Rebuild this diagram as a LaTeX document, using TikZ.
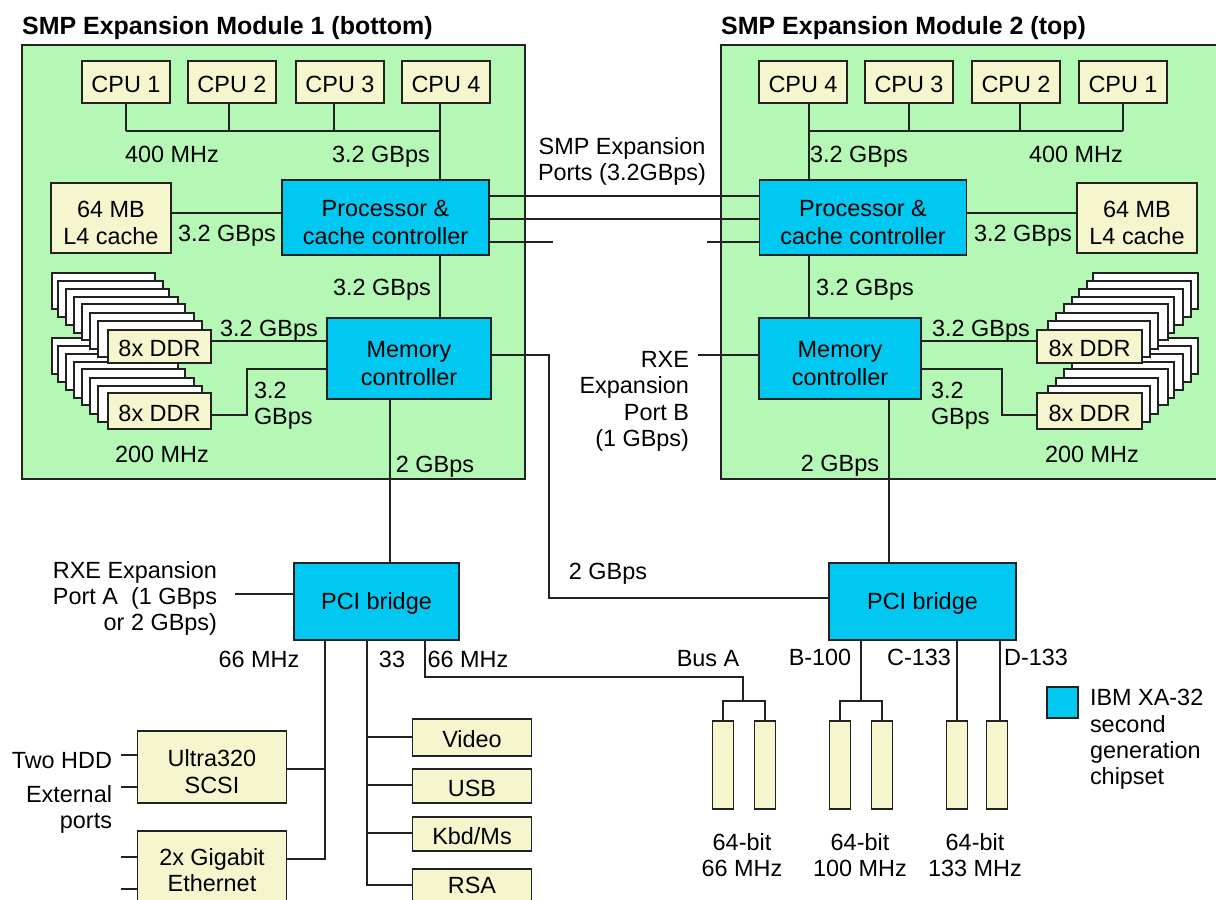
\documentclass[tikz,border=0pt]{standalone}
\usepackage{fontspec}
\setmainfont{Liberation Sans}
\usepackage{tikz}
\definecolor{ModGreen}{HTML}{B5F8B5}
\definecolor{ChipBlue}{HTML}{00C8F0}
\definecolor{PartYellow}{HTML}{F6F6CE}
\definecolor{LineGray}{HTML}{222222}
\newcommand{\px}{0.03cm}
\newcommand{\lowline}{\rule{0pt}{22.5pt}}
\tikzset{
  wire/.style={draw=LineGray, line width=1.5pt},
  sized/.style n args={2}{minimum width=#1*\px, minimum height=#2*\px, inner sep=0pt, outer sep=0pt},
  module/.style={wire, fill=ModGreen},
  boxtext/.style={align=center, font=\fontsize{20}{23.5}\selectfont, execute at begin node={\rule{0pt}{18pt}}},
  chip/.style={wire, fill=ChipBlue, boxtext},
  part/.style={wire, fill=PartYellow, boxtext},
  dimm/.style={draw=LineGray, line width=1.5pt, fill=white},
  lbl/.style={inner sep=0pt, outer sep=0pt, align=center, yshift=-2.2pt, execute at begin node={\rule{0pt}{14.5pt}}, execute at end node={\rule[-4.5pt]{0pt}{0pt}}},
  lblr/.style={lbl, align=right, anchor=east},
  lbll/.style={lbl, align=left, anchor=west},
  titlelbl/.style={inner sep=0pt, anchor=west, font=\fontsize{21.3}{24}\selectfont\bfseries}
}
\begin{document}
\begin{tikzpicture}[x=\px, y=-\px, font=\fontsize{20}{22.3}\selectfont]
  \clip (0,0) rectangle (1216,899);
  \fill[white] (0,0) rectangle (1216,899);
  \node[module, sized={503}{434}] (modL) at (273.5,262) {};
  \node[module, sized={503}{434}] (modR) at (972.5,262) {};
  \node[titlelbl] (titleL) at (22,28) {SMP Expansion Module 1 (bottom)};
  \node[titlelbl] (titleR) at (721,28) {SMP Expansion Module 2 (top)};
  \foreach \nm/\x/\txt in {cpuLa/126/CPU 1, cpuLb/232/CPU 2, cpuLc/340/CPU 3, cpuLd/446/CPU 4, cpuRd/803/CPU 4, cpuRc/909/CPU 3, cpuRb/1016/CPU 2, cpuRa/1123/CPU 1}
    \node[part, sized={88}{42}] (\nm) at (\x,82) {\txt};
  \node[chip, sized={207}{75}] (procL) at (385.5,217.5) {\lowline Processor \&\\cache controller};
  \node[chip, sized={207}{75}] (procR) at (863,217.5) {\lowline Processor \&\\cache controller};
  \node[chip, sized={164}{81}] (memL) at (409,358.5) {\lowline Memory\\controller};
  \node[chip, sized={162}{81}] (memR) at (840,358.5) {\lowline Memory\\controller};
  \node[part, sized={120}{70}] (cacheL) at (111,218) {\lowline 64 MB\\L4 cache};
  \node[part, sized={120}{70}] (cacheR) at (1137,218) {\lowline 64 MB\\L4 cache};
  \foreach \dy in {65,0} {
    \foreach \l/\r/\t in {52/155/273, 58/163/281, 66/169/289, 74/178/297, 82/185/304, 90/194/313, 98/202/321}
      \draw[dimm] (\l,\t+\dy) rectangle (\r,\t+\dy+36);
    \foreach \l/\r/\t in {1093/1198/273, 1087/1191/281, 1079/1183/289, 1072/1174/297, 1064/1168/304, 1056/1158/313, 1048/1150/321}
      \draw[dimm] (\l,\t+\dy) rectangle (\r,\t+\dy+36);
  }
  \node[part, sized={103}{33}] (ddrLa) at (159.5,346.5) {8x DDR};
  \node[part, sized={103}{36}] (ddrLb) at (159.5,411) {8x DDR};
  \node[part, sized={105}{33}] (ddrRa) at (1089.5,346.5) {8x DDR};
  \node[part, sized={105}{36}] (ddrRb) at (1089.5,411) {8x DDR};
  \node[chip, sized={165}{77}] (pciL) at (376.5,601.5) {PCI bridge};
  \node[chip, sized={187}{77}] (pciR) at (922.5,601.5) {PCI bridge};
  \node[part, sized={149}{72}] (scsi) at (212,767) {\lowline Ultra320\\SCSI};
  \node[part, sized={149}{106}] (gige) at (212,884) {};
  \node[part, sized={119}{37}] (video) at (472,737.5) {Video};
  \node[part, sized={119}{34}] (usb) at (472,786) {USB};
  \node[part, sized={119}{34}] (kbd) at (472,834) {Kbd/Ms};
  \node[part, sized={119}{60}] (rsa) at (472,899) {};
  \foreach \nm/\x in {slotAa/723, slotAb/765, slotBa/840, slotBb/882, slotCa/957, slotCb/997}
    \node[part, sized={21}{88}] (\nm) at (\x,765) {};
  \node[chip, sized={31}{31}] (legend) at (1062.5,702.5) {};

  \coordinate (busL) at (126,131);
  \coordinate (busR) at (1123,131);
  \draw[wire] (busL) -- (440,131);
  \draw[wire] (809,131) -- (busR);
  \foreach \nm/\x in {cpuLa/126, cpuLb/229, cpuLc/334}
    \draw[wire] (\x,0 |- \nm.south) -- (\x,131);
  \foreach \nm/\x in {cpuRc/909, cpuRb/1020, cpuRa/1123}
    \draw[wire] (\x,0 |- \nm.south) -- (\x,131);
  \draw[wire] (440,0 |- cpuLd.south) -- (440,0 |- procL.north);
  \draw[wire] (809,0 |- cpuRd.south) -- (809,0 |- procR.north);
  \draw[wire] (cacheL.east |- 0,213) -- (procL.west |- 0,213);
  \draw[wire] (cacheR.west |- 0,213) -- (procR.east |- 0,213);
  \draw[wire] (procL.east |- 0,196) -- (procR.west |- 0,196);
  \draw[wire] (procL.east |- 0,219) -- (procR.west |- 0,219);
  \coordinate (stubL) at (553,242);
  \coordinate (stubR) at (707,242);
  \draw[wire] (procL.east |- stubL) -- (stubL);
  \draw[wire] (procR.west |- stubR) -- (stubR);
  \draw[wire] (440,0 |- procL.south) -- (440,0 |- memL.north);
  \draw[wire] (809,0 |- procR.south) -- (809,0 |- memR.north);
  \draw[wire] (ddrLa.east |- 0,341) -- (memL.west |- 0,341);
  \draw[wire] (ddrRa.west |- 0,341) -- (memR.east |- 0,341);
  \draw[wire] (ddrLb.east |- 0,415) -| (247,369) -- (memL.west |- 0,369);
  \draw[wire] (ddrRb.west |- 0,415) -| (1002,369) -- (memR.east |- 0,369);
  \draw[wire] (memL.east |- 0,355) -| (549,598) -- (pciR.west |- 0,598);
  \coordinate (rxeB) at (698,355);
  \draw[wire] (rxeB) -- (memR.west |- rxeB);
  \draw[wire] (390,0 |- memL.south) -- (390,0 |- pciL.north);
  \draw[wire] (889,0 |- memR.south) -- (889,0 |- pciR.north);
  \coordinate (rxeA) at (235,594);
  \draw[wire] (rxeA) -- (pciL.west |- rxeA);
  \draw[wire] (325,0 |- pciL.south) -- (325,859) -- (gige.east |- 0,859);
  \draw[wire] (scsi.east |- 0,769) -- (325,769);
  \draw[wire] (367,0 |- pciL.south) -- (367,885) -- (rsa.west |- 0,885);
  \draw[wire] (367,737) -- (video.west |- 0,737);
  \draw[wire] (367,785) -- (usb.west |- 0,785);
  \draw[wire] (367,833) -- (kbd.west |- 0,833);
  \foreach \nm/\y/\n in {scsi/755/hdd, scsi/787/ext, gige/857/gba, gige/889/gbb} {
    \coordinate (\n) at (121,\y);
    \draw[wire] (\n) -- (\nm.west |- \n);
  }
  \draw[wire] (425,0 |- pciL.south) |- (743,677) -- (743,701);
  \draw[wire] (slotAa.north) |- (743,701) -| (slotAb.north);
  \draw[wire] (861,0 |- pciR.south) -- (861,701);
  \draw[wire] (slotBa.north) |- (861,701) -| (slotBb.north);
  \draw[wire] (slotCa.north) -- (957,0 |- pciR.south);
  \draw[wire] (1000,0 |- slotCb.north) -- (1000,0 |- pciR.south);

  \node[lbl] (lblA) at (172,154) {400 MHz};
  \node[lbl] (lblB) at (381,154) {3.2 GBps};
  \node[lbl] (lblC) at (859,154) {3.2 GBps};
  \node[lbl] (lblD) at (1076,154) {400 MHz};
  \node[lbl] (lblSmp) at (622,159.5) {SMP Expansion\\Ports (3.2GBps)};
  \node[lbl] (lblE) at (227,233) {3.2 GBps};
  \node[lbl] (lblF) at (1023,233) {3.2 GBps};
  \node[lbl] (lblG) at (382,287) {3.2 GBps};
  \node[lbl] (lblH) at (865,287) {3.2 GBps};
  \node[lbl] (lblI) at (269,328) {3.2 GBps};
  \node[lbl] (lblJ) at (981,328) {3.2 GBps};
  \node[lbll] (lblK) at (254,403) {3.2\\GBps};
  \node[lbll] (lblL) at (931,403) {3.2\\GBps};
  \node[lbl] (lblM) at (162,454) {200 MHz};
  \node[lbl] (lblN) at (1092,454) {200 MHz};
  \node[lbl] (lblO) at (435,464) {2 GBps};
  \node[lbl] (lblP) at (840,463) {2 GBps};
  \node[lbl] (lblQ) at (608,571) {2 GBps};
  \node[lblr] (lblRxeB) at (689,399) {RXE\\Expansion\\Port B\hspace{6pt}\\(1 GBps)};
  \node[lblr] (lblRxeA) at (217,596) {RXE Expansion\\Port A~~(1 GBps\\or 2 GBps)};
  \node[lbl] (lblR) at (259,659) {66 MHz};
  \node[lbl] (lblS) at (392,659) {33};
  \node[lbl] (lblT) at (468,659) {66 MHz};
  \node[lbl] (lblBusA) at (708,658) {Bus A};
  \node[lbl] (lblBusB) at (820,657) {B-100};
  \node[lbl] (lblBusC) at (919,657) {C-133};
  \node[lbl] (lblBusD) at (1036,657) {D-133};
  \node[lblr] (lblHdd) at (112,760) {Two HDD};
  \node[lblr] (lblExt) at (112,807) {External\\ports};
  \node[lbl] (lblGige) at (212,870) {2x Gigabit\\Ethernet};
  \node[lbl] (lblRsa) at (472,885) {RSA};
  \node[lbl] (lblU) at (742,855) {64-bit\\66 MHz};
  \node[lbl] (lblV) at (860,855) {64-bit\\100 MHz};
  \node[lbl] (lblW) at (975,855) {64-bit\\133 MHz};
  \node[lbll] (lblLegend) at (1090,737) {IBM XA-32\\second\\generation\\chipset};
\end{tikzpicture}
\end{document}
